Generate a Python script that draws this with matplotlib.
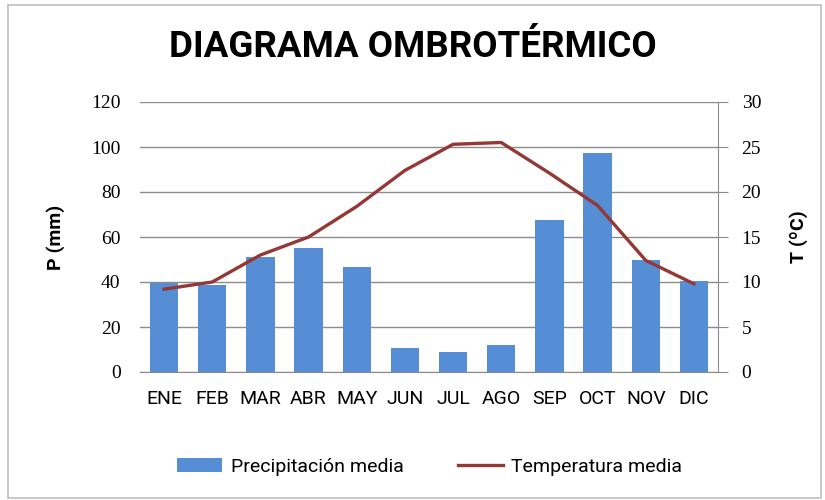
import matplotlib
matplotlib.use("Agg")
import matplotlib.pyplot as plt
from matplotlib.patches import Rectangle
import numpy as np

meses = ["ENE", "FEB", "MAR", "ABR", "MAY", "JUN", "JUL", "AGO", "SEP", "OCT", "NOV", "DIC"]
precipitacion = [39.6, 38.6, 51.2, 55.3, 46.7, 10.6, 8.7, 11.8, 67.5, 97.5, 49.7, 40.5]
temperatura = [9.2, 10.0, 13.0, 15.0, 18.4, 22.4, 25.3, 25.5, 22.1, 18.5, 12.4, 9.8]

narrow = ["Roboto", "DejaVu Sans"]
serif = ["Liberation Serif", "DejaVu Serif"]
grid_col = "#8C8C8C"
bar_col = "#558ED5"
line_col = "#953735"

fig = plt.figure(figsize=(8.25, 5), dpi=100)
fig.patches.append(Rectangle((0.01, 0.005), 0.985, 0.985, transform=fig.transFigure,
                             fill=False, edgecolor="#BFBFBF", linewidth=1.2))

ax = fig.add_axes([0.1697, 0.256, 0.7006, 0.540])
x = np.arange(len(meses))
ax.bar(x, precipitacion, width=0.59, color=bar_col, zorder=2, label="Precipitación media")
ax.set_xlim(-0.5, len(meses) - 0.5)
ax.set_ylim(0, 120)
ax.set_yticks(np.arange(0, 121, 20))
ax.yaxis.grid(True, color=grid_col, linewidth=1)
ax.set_axisbelow(True)
ax.tick_params(axis="y", length=0, pad=14, labelsize=14)
ax.tick_params(axis="x", length=0, pad=13, labelsize=14)
ax.set_xticks(x)
ax.set_xticklabels(meses, family=narrow)
for lab in ax.get_yticklabels():
    lab.set_family(serif)
for s in ["left", "top", "right"]:
    ax.spines[s].set_visible(False)
ax.spines["bottom"].set_color(grid_col)
ax.set_ylabel("P (mm)", family=narrow, fontsize=14, fontweight="bold", labelpad=19)

ax2 = ax.twinx()
ax2.plot(x, temperatura, color=line_col, linewidth=2.4, zorder=3, label="Temperatura media")
ax2.set_ylim(0, 30)
ax2.set_yticks(np.arange(0, 31, 5))
ax2.tick_params(axis="y", length=7, color=grid_col, labelsize=14, pad=10)
for lab in ax2.get_yticklabels():
    lab.set_family(serif)
for s in ["left", "top", "bottom"]:
    ax2.spines[s].set_visible(False)
ax2.spines["right"].set_color(grid_col)
ax2.set_ylabel("T (ºC)", family=narrow, fontsize=14, fontweight="bold", labelpad=20)

fig.text(0.5, 0.906, "DIAGRAMA OMBROTÉRMICO", ha="center", va="center",
         family=narrow, fontsize=26.5, fontweight="bold")

h1, l1 = ax.get_legend_handles_labels()
h2, l2 = ax2.get_legend_handles_labels()
fig.legend(h1 + h2, l1 + l2, loc="center", bbox_to_anchor=(0.521, 0.067), ncol=2,
           frameon=False, prop={"family": narrow, "size": 14}, handlelength=2.3,
           handletextpad=0.45, columnspacing=2.8)

fig.savefig("out.png", dpi=100)
